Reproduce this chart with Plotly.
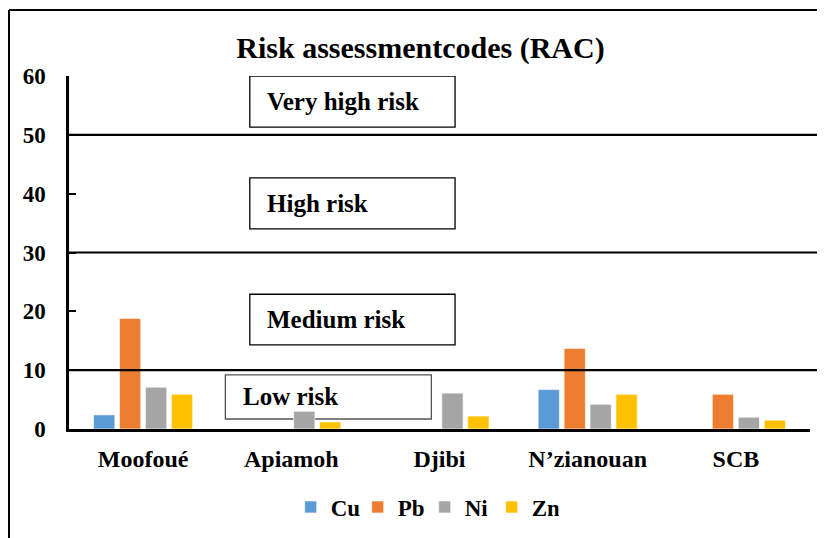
import plotly.graph_objects as go

sites = ["Moofoué", "Apiamoh", "Djibi", "N’zianouan", "SCB"]
cu = [2.4, 0, 0, 6.7, 0]
pb = [18.8, 0, 0, 13.7, 5.9]
ni = [7.1, 3.0, 6.1, 4.2, 2.0]
zn = [5.9, 1.2, 2.2, 5.9, 1.5]
series_names = ["Cu", "Pb", "Ni", "Zn"]
series_colors = ["#5B9BD5", "#ED7D31", "#A5A5A5", "#FFC000"]
y_ticks = [0, 10, 20, 30, 40, 50, 60]
thresholds = [10, 30, 50]
risk_labels = ["Very high risk", "High risk", "Medium risk", "Low risk"]

FONT = "Liberation Serif, Times New Roman, serif"

fig = go.Figure()
for name, vals, col in zip(series_names, [cu, pb, ni, zn], series_colors):
    fig.add_trace(go.Bar(name=name, x=sites, y=vals, marker_color=col,
                         marker_line=dict(color="rgba(255,255,255,0.6)", width=1)))

shapes = []
for t in thresholds:
    shapes.append(dict(type="line", xref="paper", yref="y", x0=0, x1=1.05, y0=t, y1=t,
                       line=dict(color="black", width=2.2), layer="above"))
# outer frame
shapes.append(dict(type="line", xref="paper", yref="paper", x0=-0.081, x1=1.1, y0=1.187, y1=1.187,
                   line=dict(color="black", width=2)))
shapes.append(dict(type="line", xref="paper", yref="paper", x0=-0.081, x1=-0.081, y0=1.187, y1=-0.4,
                   line=dict(color="black", width=2)))

# label boxes: (x0, x1, y0, y1, border color)
boxes = [(0.244, 0.521, 51.3, 60.0, "black"),
         (0.244, 0.521, 34.0, 42.7, "black"),
         (0.244, 0.521, 14.3, 22.9, "black"),
         (0.211, 0.489, 1.7, 9.2, "#555555")]
annotations = []
for (x0, x1, y0, y1, bc), lab in zip(boxes, risk_labels):
    shapes.append(dict(type="rect", xref="paper", yref="y", x0=x0, x1=x1, y0=y0, y1=y1,
                       line=dict(color=bc, width=1.3), fillcolor="white", layer="below"))
    annotations.append(dict(xref="paper", yref="y", x=x0 + 0.021, y=(y0 + y1) / 2, text="<b>%s</b>" % lab,
                            showarrow=False, xanchor="left", yanchor="middle",
                            font=dict(family=FONT, size=25, color="black")))

fig.update_layout(
    width=825, height=538,
    margin=dict(l=61, r=23, t=68, b=117),
    paper_bgcolor="white", plot_bgcolor="white",
    barmode="group", bargap=0.3, bargroupgap=0.18,
    title=dict(text="<b>Risk assessmentcodes (RAC)</b>", x=0.5, xanchor="center",
               y=0.9275, yanchor="middle", font=dict(family=FONT, size=30, color="black")),
    font=dict(family=FONT, color="black"),
    showlegend=True,
    legend=dict(orientation="h", x=0.48, xanchor="center", y=-0.221, yanchor="middle",
                font=dict(family=FONT, size=23, color="black", weight="bold"),
                itemwidth=30, entrywidth=22, traceorder="normal"),
    shapes=shapes, annotations=annotations,
)
fig.update_yaxes(range=[0, 60], tickvals=y_ticks, showgrid=False, zeroline=False,
                 showline=True, linecolor="black", linewidth=2.5,
                 ticks="inside", ticklen=7, tickwidth=2, tickcolor="black",
                 ticklabelstandoff=16,
                 tickfont=dict(family=FONT, size=23, color="black", weight="bold"))
fig.update_xaxes(showgrid=False, showline=True, linecolor="black", linewidth=3,
                 ticks="", ticklabelstandoff=6,
                 tickfont=dict(family=FONT, size=24, color="black", weight="bold"))

fig.write_html("out.html")
